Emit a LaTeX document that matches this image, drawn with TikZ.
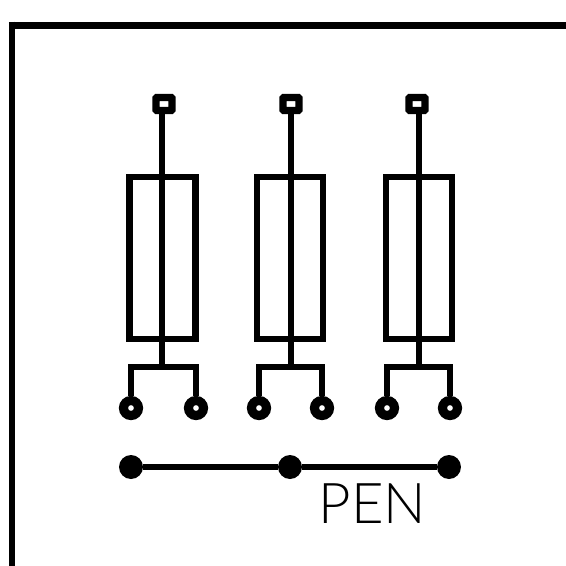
\documentclass[tikz,border=0pt]{standalone}
\usepackage{fontspec}
\setmainfont{Lato Light}
\usepackage{tikz}
\tikzset{
	wire/.style = { line width = 3.1pt },
	border/.style = { line width = 4pt },
	fuse/.style = { draw, rectangle, line width = 3.8pt, inner sep = 0pt,
		minimum width = 1.32cm, minimum height = 3.24cm },
	topterm/.style = { draw, rectangle, rounded corners = 0.5pt, line width = 4.2pt,
		inner sep = 0pt, minimum width = 0.32cm, minimum height = 0.26cm },
	term/.style = { draw, circle, line width = 5.2pt, inner sep = 0pt,
		minimum size = 0.3cm },
	busdot/.style = { fill, circle, inner sep = 0pt, minimum size = 0.48cm }
}

\begin{document}
\begin{tikzpicture}[ x = 0.02cm, y = -0.02cm ]
	\useasboundingbox (0,0) rectangle (566,566);

	% frame, open at right and bottom
	\coordinate (right) at (566,25.5);
	\coordinate (bottom) at (12.2,566);
	\draw [ border, line width = 4.5pt ] (9,25.5) -- (right);
	\draw [ border, line width = 3.7pt ] (12.2,21.5) -- (bottom);

	\node [fuse] (fuse1) at (162.5,258) {};
	\node [fuse] (fuse2) at (290,258) {};
	\node [fuse] (fuse3) at (419,258) {};

	\node [topterm] (top1) at (164,104) {};
	\node [topterm] (top2) at (291,104) {};
	\node [topterm] (top3) at (417,104) {};

	\coordinate (join1) at (162,367);
	\coordinate (join2) at (291,367);
	\coordinate (join3) at (419,367);

	\node [term] (term1a) at (131,408) {};
	\node [term] (term1b) at (196,408) {};
	\node [term] (term2a) at (259,408) {};
	\node [term] (term2b) at (322,408) {};
	\node [term] (term3a) at (387,408) {};
	\node [term] (term3b) at (450,408) {};

	\draw [wire] (join1 |- top1.south) -- (join1);
	\draw [wire] (join2 |- top2.south) -- (join2);
	\draw [wire] (join3 |- top3.south) -- (join3);

	\draw [wire] (term1a) |- (join1) -| (term1b);
	\draw [wire] (term2a) |- (join2) -| (term2b);
	\draw [wire] (term3a) |- (join3) -| (term3b);

	\node [busdot] (bus1) at (131,467) {};
	\node [busdot] (bus2) at (290,467) {};
	\node [busdot] (bus3) at (449,467) {};
	\draw [wire] (bus1) -- (bus2);
	\draw [wire] (bus2) -- (bus3);

	\node [ inner sep = 0pt ] (pen) at (372.5,504)
		{ \fontsize{32}{32}\selectfont PEN };
\end{tikzpicture}
\end{document}
